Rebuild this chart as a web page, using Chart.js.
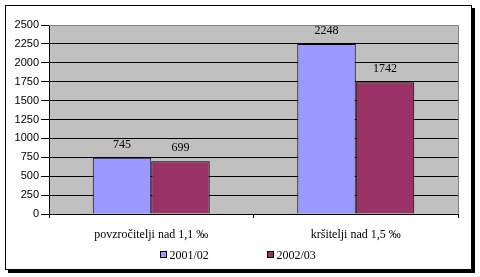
<!DOCTYPE html>
<html>
<head>
<meta charset="utf-8">
<script src="https://cdn.jsdelivr.net/npm/chart.js@4/dist/chart.umd.min.js"></script>
<style>
  html, body { margin: 0; padding: 0; background: #fff; }
  #wrap { width: 480px; height: 277px; }
</style>
</head>
<body>
<div id="wrap"><canvas id="chart" width="480" height="277"></canvas></div>
<script>
// categories and series
const categories = ['povzročitelji nad 1,1 ‰', 'kršitelji nad 1,5 ‰'];
const seriesNames = ['2001/02', '2002/03'];
const values2001 = [745, 2248];
const values2002 = [699, 1742];
const yTicks = { min: 0, max: 2500, step: 250 };

const serif = "'Liberation Serif', 'Times New Roman', serif";
const sans = "'Liberation Sans', Arial, sans-serif";

// white page, thin frame and drop shadow, grey plot area
const framePlugin = {
  id: 'frame',
  beforeDraw(chart) {
    const ctx = chart.ctx;
    const a = chart.chartArea;
    ctx.save();
    ctx.fillStyle = '#fff';
    ctx.fillRect(0, 0, chart.width, chart.height);
    ctx.fillStyle = '#000';
    ctx.fillRect(472, 8, 3, 265);
    ctx.fillRect(8, 270, 467, 3);
    ctx.strokeStyle = '#000';
    ctx.lineWidth = 1;
    ctx.strokeRect(5.5, 5.5, 466, 264);
    ctx.fillStyle = '#c0c0c0';
    ctx.fillRect(a.left, a.top, a.right - a.left, a.bottom - a.top);
    ctx.restore();
  },
  beforeDatasetsDraw(chart) {
    const ctx = chart.ctx;
    const a = chart.chartArea;
    ctx.save();
    ctx.strokeStyle = '#808080';
    ctx.lineWidth = 1;
    ctx.beginPath();
    ctx.moveTo(a.left, a.top + 0.5);
    ctx.lineTo(Math.round(a.right) + 0.5, a.top + 0.5);
    ctx.lineTo(Math.round(a.right) + 0.5, a.bottom);
    ctx.stroke();
    ctx.restore();
  }
};

// value labels above each bar
const valueLabels = {
  id: 'valueLabels',
  afterDatasetsDraw(chart) {
    const ctx = chart.ctx;
    ctx.save();
    ctx.font = '12px ' + serif;
    ctx.fillStyle = '#000';
    ctx.textAlign = 'center';
    ctx.textBaseline = 'middle';
    chart.data.datasets.forEach((ds, i) => {
      chart.getDatasetMeta(i).data.forEach((bar, j) => {
        ctx.fillText(String(ds.data[j]), bar.x, bar.y - 13);
      });
    });
    ctx.restore();
  }
};

// Excel-style legend: small squares, wide gap between items
const bottomLegend = {
  id: 'bottomLegend',
  afterDraw(chart) {
    const ctx = chart.ctx;
    const y = 255;
    const gap = 107;
    ctx.save();
    ctx.font = '12px ' + serif;
    ctx.textBaseline = 'middle';
    const lastW = ctx.measureText(chart.data.datasets[chart.data.datasets.length - 1].label).width;
    const total = gap * (chart.data.datasets.length - 1) + 9 + lastW;
    let x = Math.round(238 - total / 2) + 0.5;
    chart.data.datasets.forEach(ds => {
      ctx.fillStyle = ds.backgroundColor;
      ctx.fillRect(x, y - 3.5, 6, 6);
      ctx.strokeStyle = '#000';
      ctx.lineWidth = 1;
      ctx.strokeRect(x, y - 3.5, 6, 6);
      ctx.fillStyle = '#000';
      ctx.fillText(ds.label, x + 9, y + 0.5);
      x += gap;
    });
    ctx.restore();
  }
};

new Chart(document.getElementById('chart'), {
  type: 'bar',
  data: {
    labels: categories,
    datasets: [
      { label: seriesNames[0], data: values2001, backgroundColor: '#9999ff', borderColor: '#000', borderWidth: 1 },
      { label: seriesNames[1], data: values2002, backgroundColor: '#993366', borderColor: '#000', borderWidth: 1 }
    ]
  },
  options: {
    responsive: false,
    animation: false,
    devicePixelRatio: 1,
    categoryPercentage: 0.572,
    barPercentage: 1,
    layout: { padding: { left: 5, right: 22, top: 25, bottom: 33 } },
    plugins: {
      legend: { display: false },
      tooltip: { enabled: false }
    },
    scales: {
      x: {
        afterFit: s => { s.height = 30; },
        grid: { drawOnChartArea: false, drawTicks: true, tickLength: 4, color: '#000' },
        border: { color: '#000' },
        ticks: { color: '#000', font: { family: serif, size: 12 }, padding: 10, maxRotation: 0 }
      },
      y: {
        min: yTicks.min,
        max: yTicks.max,
        afterFit: s => { s.width = 44; },
        grid: {
          color: ctx => (ctx.tick && ctx.tick.value === yTicks.max ? 'rgba(0,0,0,0)' : '#000'),
          tickColor: '#000',
          tickLength: 8
        },
        border: { color: '#000' },
        ticks: { stepSize: yTicks.step, color: '#000', font: { family: sans, size: 11 }, padding: 2, callback: v => String(v) }
      }
    }
  },
  plugins: [framePlugin, valueLabels, bottomLegend]
});
</script>
</body>
</html>
